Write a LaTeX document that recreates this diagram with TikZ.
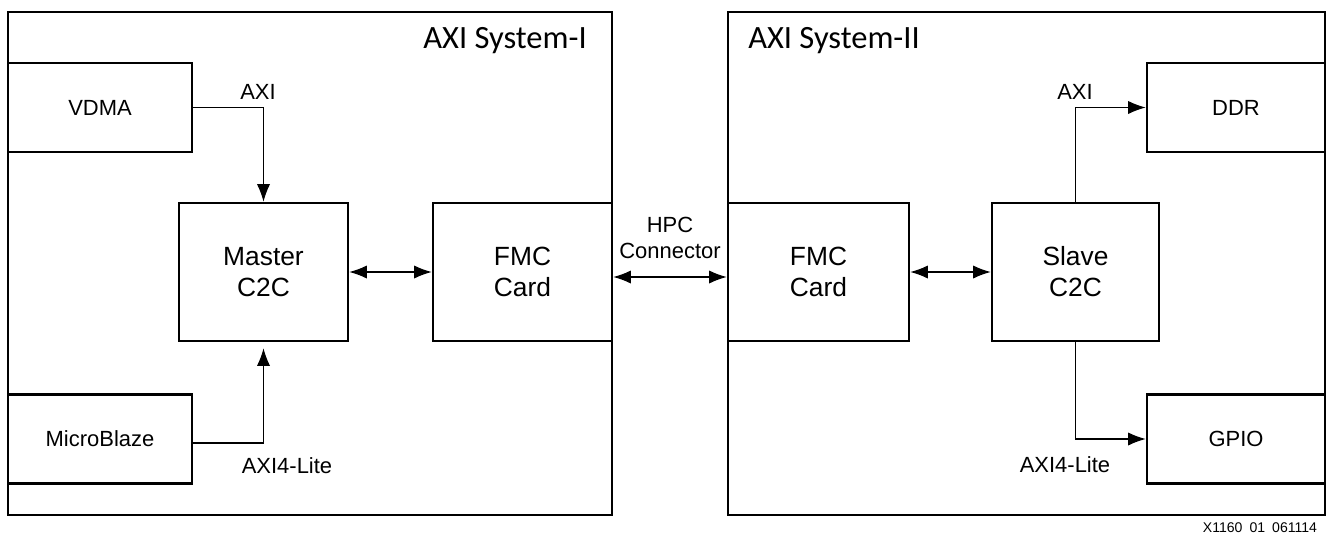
\documentclass[tikz,border=0pt]{standalone}
\usepackage{fontspec}
\setmainfont{Liberation Sans}
\newfontfamily\titlefont{Carlito}
\usetikzlibrary{arrows.meta,positioning}

\tikzset{
  sysbox/.style={draw, line width=1.5pt, minimum height=10.06cm},
  blockbox/.style={draw, line width=1.5pt, fill=white, align=center, minimum height=1.78cm, font=\fontsize{12.5}{14}\selectfont},
  corebox/.style={blockbox, minimum height=2.76cm, font=\fontsize{15}{17.6}\selectfont},
  lbl/.style={align=center, font=\fontsize{12.5}{14.7}\selectfont},
  link/.style={line width=0.6pt}
}

\begin{document}
\begin{tikzpicture}[x=0.02cm, y=-0.02cm, >={Latex[length=10pt,width=7.5pt]}]
    \useasboundingbox (0,0) rectangle (1329,535);

    %% Systems
    \node at (310,263.5) [sysbox, minimum width=12.08cm](sysA){};
    \node at (1026.5,263.5) [sysbox, minimum width=11.94cm](sysB){};
    \node at (505,41) {\titlefont\fontsize{18.5}{20}\selectfont AXI System-I};
    \node at (834,41) {\titlefont\fontsize{18.5}{20}\selectfont AXI System-II};

    %% Blocks of system I
    \node at (100,107.5) [blockbox, minimum width=3.68cm](vdma){VDMA};
    \node at (100,439) [blockbox, minimum width=3.68cm](micro){MicroBlaze};
    \node at (263.5,272) [corebox, minimum width=3.38cm](master){Master\\C2C};
    \node at (522.5,272) [corebox, minimum width=3.58cm](fmcA){FMC\\Card};

    %% Blocks of system II
    \node at (818.5,272) [corebox, minimum width=3.62cm](fmcB){FMC\\Card};
    \node at (1075.5,272) [corebox, minimum width=3.34cm](slave){Slave\\C2C};
    \node at (1236,107.5) [blockbox, minimum width=3.56cm](ddr){DDR};
    \node at (1236,439) [blockbox, minimum width=3.56cm](gpio){GPIO};

    %% Arrows
    \draw [->, link] (vdma.east) -| (master.north);
    \draw [->, link] ([yshift=-0.08cm]micro.east) -| ([yshift=-0.12cm]master.south);
    \draw [<->, link] (master) -- (fmcA);
    \draw [<->, link] ([yshift=-0.1cm]fmcA.east) -- ([yshift=-0.1cm]fmcB.west);
    \draw [<->, link] (fmcB) -- (slave);
    \draw [->, link] (slave.north) |- (ddr.west);
    \draw [->, link] (slave.south) |- (gpio.west);

    %% Labels
    \node at (258,92) [lbl](axiA){AXI};
    \node at (287,466) [lbl](liteA){AXI4-Lite};
    \node at (670,238) [lbl](hpc){HPC\\Connector};
    \node at (1075,92) [lbl](axiB){AXI};
    \node at (1065,465) [lbl](liteB){AXI4-Lite};
    \node at (1260,528) (code){\fontsize{8}{9}\selectfont X1160\enspace01\enspace061114};
\end{tikzpicture}
\end{document}
